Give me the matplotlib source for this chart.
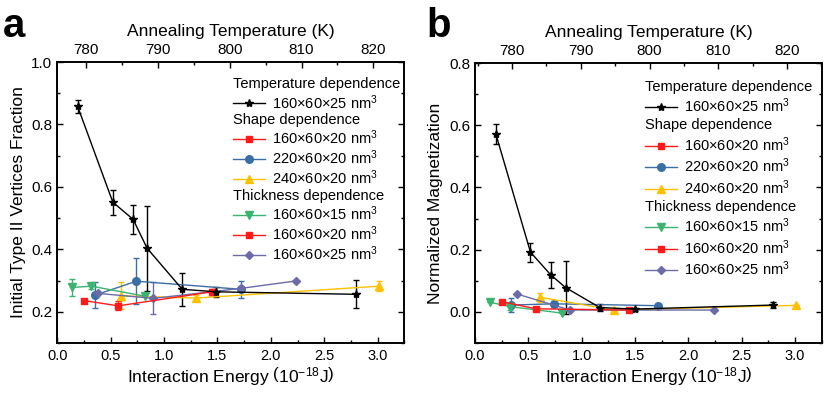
import matplotlib
matplotlib.use("Agg")
import matplotlib.pyplot as plt
from matplotlib.lines import Line2D
from matplotlib.ticker import MultipleLocator

plt.rcParams['font.family'] = ['Liberation Sans', 'DejaVu Sans']
plt.rcParams['mathtext.fontset'] = 'custom'
plt.rcParams['mathtext.rm'] = 'Liberation Sans'
plt.rcParams['mathtext.it'] = 'Liberation Sans'
plt.rcParams['mathtext.bf'] = 'Liberation Sans:bold'

# ---- data (x = interaction energy, 1e-18 J) ----
# panel a: initial type II vertices fraction
a_temp_x = [0.19, 0.52, 0.71, 0.84, 1.17, 1.49, 2.80]
a_temp_y = [0.858, 0.551, 0.496, 0.404, 0.272, 0.264, 0.256]
a_temp_e = [0.02, 0.04, 0.047, 0.136, 0.053, 0.016, 0.045]

a_s20_x = [0.25, 0.57, 1.45]
a_s20_y = [0.236, 0.219, 0.264]
a_s20_e = [0.0, 0.014, 0.01]

a_s220_x = [0.35, 0.74, 1.72]
a_s220_y = [0.253, 0.298, 0.272]
a_s220_e = [0.042, 0.074, 0.028]

a_s240_x = [0.60, 1.30, 3.01]
a_s240_y = [0.251, 0.244, 0.282]
a_s240_e = [0.043, 0.01, 0.017]

a_t15_x = [0.14, 0.32, 0.82]
a_t15_y = [0.278, 0.282, 0.250]
a_t15_e = [0.028, 0.01, 0.0]

a_t25_x = [0.38, 0.90, 1.72, 2.24]
a_t25_y = [0.259, 0.243, 0.275, 0.299]
a_t25_e = [0.0, 0.051, 0.0, 0.0]

# panel b: normalized magnetization
b_temp_x = [0.196, 0.52, 0.71, 0.85, 1.17, 1.50, 2.79]
b_temp_y = [0.571, 0.192, 0.119, 0.078, 0.014, 0.009, 0.022]
b_temp_e = [0.032, 0.03, 0.043, 0.086, 0.01, 0.005, 0.01]

b_s20_x = [0.25, 0.57, 1.44]
b_s20_y = [0.033, 0.010, 0.006]
b_s20_e = [0.0, 0.0, 0.0]

b_s220_x = [0.34, 0.74, 1.72]
b_s220_y = [0.022, 0.026, 0.020]
b_s220_e = [0.023, 0.01, 0.0]

b_s240_x = [0.61, 1.30, 3.01]
b_s240_y = [0.047, 0.006, 0.021]
b_s240_e = [0.015, 0.0, 0.0]

b_t15_x = [0.14, 0.33, 0.82]
b_t15_y = [0.031, 0.017, -0.004]
b_t15_e = [0.0, 0.01, 0.0]

b_t25_x = [0.39, 0.89, 2.24]
b_t25_y = [0.058, 0.006, 0.006]
b_t25_e = [0.0, 0.0, 0.0]

lbl_25 = "160\u00d760\u00d725 nm$^3$"
lbl_20 = "160\u00d760\u00d720 nm$^3$"
lbl_220 = "220\u00d760\u00d720 nm$^3$"
lbl_240 = "240\u00d760\u00d720 nm$^3$"
lbl_15 = "160\u00d760\u00d715 nm$^3$"
headers = ["Temperature dependence", "Shape dependence", "Thickness dependence"]

c_black = 'black'
c_red = '#FF1A1A'
c_blue = '#3A6EA5'
c_yellow = '#FFC000'
c_green = '#3CB371'
c_purple = '#6B6BA8'


def series(ax, x, y, e, color, marker, ms=5.5):
    h = ax.errorbar(x, y, yerr=e, color=color, marker=marker, ms=ms, lw=1.0,
                    elinewidth=1.0, capsize=2.5, capthick=1.0, mec=color)
    return h[0]


def panel(ax, d, top_lim, ylim, ymajor, ylabel, leg_anchor, spacing):
    tx, ty, te, s20, s220, s240, t15, t25 = d
    h_s220 = series(ax, *s220, c_blue, 'o')
    h_s240 = series(ax, *s240, c_yellow, '^')
    h_t15 = series(ax, *t15, c_green, 'v')
    h_t25 = series(ax, *t25, c_purple, 'D', ms=4.5)
    h_s20 = series(ax, *s20, c_red, 's', ms=5)
    h_temp = series(ax, tx, ty, te, c_black, '*', ms=6)

    ax.set_xlim(0, 3.25)
    ax.set_ylim(*ylim)
    ax.xaxis.set_major_locator(MultipleLocator(0.5))
    ax.xaxis.set_minor_locator(MultipleLocator(0.25))
    ax.yaxis.set_major_locator(MultipleLocator(ymajor))
    ax.yaxis.set_minor_locator(MultipleLocator(ymajor / 2))
    ax.tick_params(which='both', direction='in', right=True, labelsize=11)
    ax.tick_params(which='major', length=4, width=1)
    ax.tick_params(which='minor', length=2.5, width=1)
    ax.tick_params(axis='x', labelsize=10.5, pad=4)
    for s in ax.spines.values():
        s.set_linewidth(1.2)
    ax.set_xlabel(r"Interaction Energy $\left(10^{-18}\mathrm{J}\right)$", fontsize=12.5, labelpad=2)
    ax.set_ylabel(ylabel, fontsize=12.5, labelpad=4)

    top = ax.twiny()
    top.set_xlim(*top_lim)
    top.xaxis.set_major_locator(MultipleLocator(10))
    top.xaxis.set_minor_locator(MultipleLocator(5))
    top.tick_params(which='both', direction='in', labelsize=11)
    top.tick_params(which='major', length=4, width=1)
    top.tick_params(which='minor', length=2.5, width=1)
    top.set_xlabel("Annealing Temperature (K)", fontsize=12.5, labelpad=5)
    for s in top.spines.values():
        s.set_linewidth(1.2)

    blank = Line2D([], [], linestyle='none')
    handles = [blank, h_temp, blank, h_s20, h_s220, h_s240, blank, h_t15, h_s20, h_t25]
    labels = [headers[0], lbl_25, headers[1], lbl_20, lbl_220, lbl_240,
              headers[2], lbl_15, lbl_20, lbl_25]
    leg = top.legend(handles, labels, loc='upper left', bbox_to_anchor=leg_anchor,
                     frameon=False, fontsize=10.5, handlelength=2.2, handletextpad=0.5,
                     labelspacing=spacing, borderpad=0, borderaxespad=0)
    for col in leg._legend_handle_box.get_children():
        for row in col.get_children():
            da, ta = row.get_children()
            if ta.get_text() in headers:
                da.width = 0
                row.sep = 0
    return top


fig = plt.figure(figsize=(8.31, 3.94), dpi=100)
ax1 = fig.add_axes([0.069, 0.1294, 0.4175, 0.7132])
ax2 = fig.add_axes([0.5716, 0.1294, 0.4172, 0.7107])

panel(ax1, (a_temp_x, a_temp_y, a_temp_e,
            (a_s20_x, a_s20_y, a_s20_e), (a_s220_x, a_s220_y, a_s220_e),
            (a_s240_x, a_s240_y, a_s240_e), (a_t15_x, a_t15_y, a_t15_e),
            (a_t25_x, a_t25_y, a_t25_e)),
      (776, 824.3), (0.1, 1.0), 0.2, "Initial Type II Vertices Fraction",
      (0.505, 0.945), 0.1)
panel(ax2, (b_temp_x, b_temp_y, b_temp_e,
            (b_s20_x, b_s20_y, b_s20_e), (b_s220_x, b_s220_y, b_s220_e),
            (b_s240_x, b_s240_y, b_s240_e), (b_t15_x, b_t15_y, b_t15_e),
            (b_t25_x, b_t25_y, b_t25_e)),
      (774.6, 825.05), (-0.1, 0.8), 0.2, "Normalized Magnetization",
      (0.49, 0.94), 0.2)

fig.text(0.004, 0.906, "a", fontsize=29, fontweight='bold', va='baseline')
fig.text(0.513, 0.906, "b", fontsize=29, fontweight='bold', va='baseline')

fig.savefig("out.png", dpi=100)
